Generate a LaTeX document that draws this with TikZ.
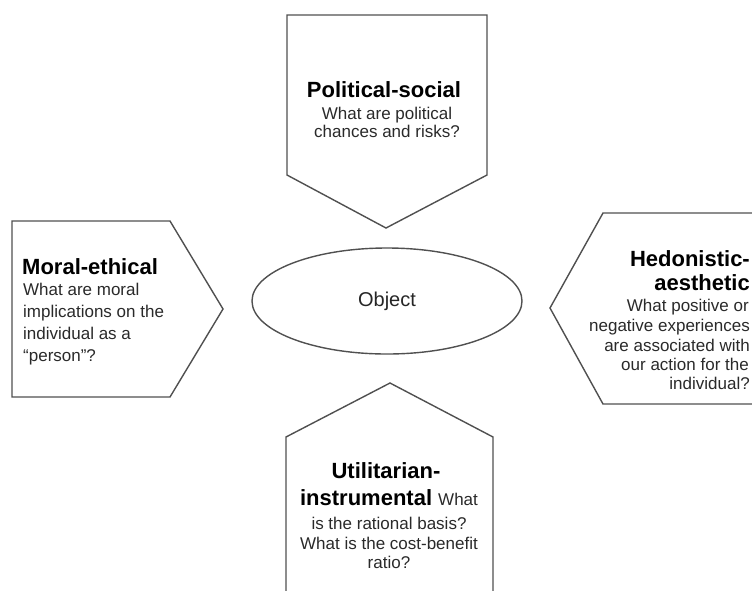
\documentclass[tikz,border=0pt]{standalone}
\usepackage{fontspec}
\setmainfont{Liberation Sans}
\usetikzlibrary{shapes.geometric}
\definecolor{linegray}{HTML}{505050}
\definecolor{textgray}{HTML}{2A2A2A}
\tikzset{
  frame/.style={draw=linegray, line width=1.4pt, line join=miter},
  heading/.style={font=\fontsize{22}{26}\selectfont\bfseries, text=black, inner sep=0pt},
  body/.style={font=\fontsize{17}{20}\selectfont, text=textgray, inner sep=0pt},
}
\begin{document}
\begin{tikzpicture}[x=1pt,y=-1pt]
\clip (0,0) rectangle (752,590);
\fill[white] (0,0) rectangle (752,590);

% five-sided arrow shapes pointing at the centre
\draw[frame] (287,15) -- (487,15) -- (487,175) -- (386,228) -- (287,175) -- cycle;
\draw[frame] (12,221) -- (170,221) -- (223,309) -- (170,397) -- (12,397) -- cycle;
\draw[frame] (770,213) -- (603,213) -- (550,308) -- (603,404) -- (770,404);
\draw[frame] (286,600) -- (286,437) -- (390,383) -- (493,437) -- (493,600);

% centre
\node[draw=linegray, line width=1.4pt, ellipse, minimum width=270pt, minimum height=106pt,
      inner sep=0pt, font=\fontsize{20}{24}\selectfont, text=black!85] (object) at (387,301) {Object};

% top: political-social
\node[heading, anchor=base] (polT) at (384,97) {Political-social};
\node[body, anchor=base] (pol1) at (387,119) {What are political};
\node[body, anchor=base] (pol2) at (387,137) {chances and risks?};

% left: moral-ethical
\node[heading, anchor=base west] (morT) at (22,274) {Moral-ethical};
\node[body, anchor=base west] (mor1) at (23,295) {What are moral};
\node[body, anchor=base west] (mor2) at (23,317) {implications on the};
\node[body, anchor=base west] (mor3) at (23,339) {individual as a};
\node[body, anchor=base west] (mor4) at (23,361) {“person”?};

% right: hedonistic-aesthetic
\node[heading, anchor=base east] (hedT1) at (750,266) {Hedonistic-};
\node[heading, anchor=base east] (hedT2) at (750,290) {aesthetic};
\node[body, anchor=base east] (hed1) at (749,311) {What positive or};
\node[body, anchor=base east] (hed2) at (750,331) {negative experiences};
\node[body, anchor=base east] (hed3) at (750,351) {are associated with};
\node[body, anchor=base east] (hed4) at (749,370) {our action for the};
\node[body, anchor=base east] (hed5) at (750,389) {individual?};

% bottom: utilitarian-instrumental
\node[heading, anchor=base] (utiT1) at (386,478) {Utilitarian-};
\node[heading, anchor=base] (utiT2) at (389,505) {instrumental {\fontsize{17}{20}\selectfont\mdseries\color{textgray} What}};
\node[body, anchor=base] (uti1) at (389,529) {is the rational basis?};
\node[body, anchor=base] (uti2) at (389,549) {What is the cost-benefit};
\node[body, anchor=base] (uti3) at (389,568) {ratio?};
\end{tikzpicture}
\end{document}
